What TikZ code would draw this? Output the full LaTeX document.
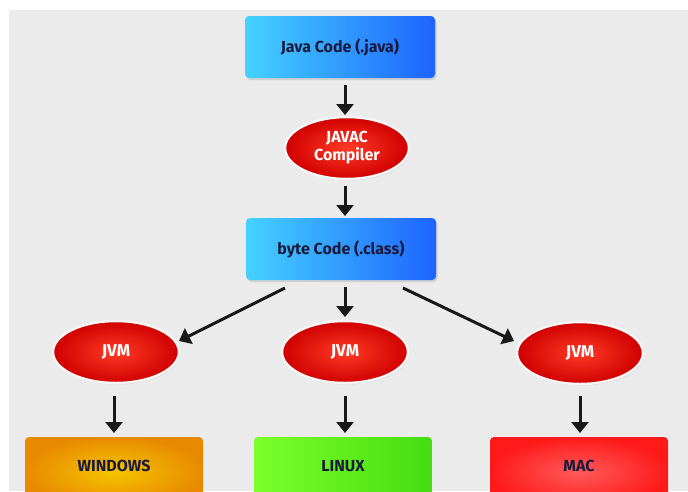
\documentclass[tikz,border=0pt]{standalone}
\usepackage{fontspec}
\setmainfont{Fira Sans}
\usetikzlibrary{arrows.meta,shadows,shapes.geometric}
\definecolor{bg}{HTML}{EBEBEB}
\definecolor{txtdark}{HTML}{1A1A3A}
\definecolor{bluel}{HTML}{45D2FF}
\definecolor{blued}{HTML}{1E64FF}
\definecolor{redd}{HTML}{D00000}
\definecolor{redl}{HTML}{FF3A26}
\definecolor{orl}{HTML}{F5C400}
\definecolor{ord}{HTML}{E88A00}
\definecolor{grl}{HTML}{7CFF2A}
\definecolor{grd}{HTML}{44DD11}
\definecolor{mcl}{HTML}{FF5A5A}
\definecolor{mcd}{HTML}{FF1A1A}
\tikzset{
  bluebox/.style={rectangle, rounded corners=4pt, minimum width=190pt, minimum height=62pt,
    left color=bluel, right color=blued, text=txtdark,
    font=\fontsize{16}{18}\selectfont\bfseries,
    drop shadow={shadow xshift=1.5pt, shadow yshift=-2pt, opacity=0.25}},
  redell/.style={ellipse, minimum width=124pt, minimum height=62pt, inner sep=0pt,
    inner color=redl, outer color=redd, draw=white!92!gray, line width=2.5pt,
    text=white, align=center, font=\fontsize{16}{18}\selectfont\bfseries,
    drop shadow={shadow xshift=1pt, shadow yshift=-1.5pt, opacity=0.2}},
  jvmell/.style={redell, minimum width=126pt, font=\fontsize{17}{19}\selectfont\bfseries},
  osbox/.style={rectangle, rounded corners=4pt, minimum width=178pt, minimum height=70pt},
  ostext/.style={text=txtdark, font=\fontsize{16}{18}\selectfont\bfseries},
  arr/.style={-{Triangle[width=17pt,length=11pt]}, line width=3pt, black!90}
}
\begin{document}
\begin{tikzpicture}[x=1pt,y=-1pt]
\useasboundingbox (0,0) rectangle (688,491);
\clip (0,0) rectangle (688,491);
\fill[white] (0,0) rectangle (688,491);
\fill[bg] (9,10) rectangle (688,491);

\node[bluebox] (java) at (340,47) {Java Code (.java)};
\node[redell] (javac) at (347,148) {JAVAC\\Compiler};
\node[bluebox] (byte) at (341,249) {byte Code (.class)};

\node[jvmell] (jvm1) at (116,352) {JVM};
\node[jvmell] (jvm2) at (345,352) {JVM};
\node[jvmell] (jvm3) at (580,353) {JVM};

\node[osbox, inner color=orl, outer color=ord] (win) at (114,472) {};
\node[osbox, left color=grl, right color=grd] (lin) at (343,472) {};
\node[osbox, inner color=mcl, outer color=mcd] (mac) at (579,472) {};
\node[ostext] (wint) at (114,466) {WINDOWS};
\node[ostext] (lint) at (343,466) {LINUX};
\node[ostext] (mact) at (579,466) {MAC};

\coordinate (a1s) at (345,85);
\coordinate (a1e) at (345,115);
\draw[arr] (a1s) -- (a1e);
\coordinate (a2s) at (345,186);
\coordinate (a2e) at (345,216);
\draw[arr] (a2s) -- (a2e);
\coordinate (b1s) at (285,288);
\coordinate (b1e) at (179,341);
\draw[arr] (b1s) -- (b1e);
\coordinate (b2s) at (345,287);
\coordinate (b2e) at (345,317);
\draw[arr] (b2s) -- (b2e);
\coordinate (b3s) at (403,288);
\coordinate (b3e) at (514,341);
\draw[arr] (b3s) -- (b3e);
\coordinate (c1s) at (114,396);
\coordinate (c1e) at (114,433);
\draw[arr] (c1s) -- (c1e);
\coordinate (c2s) at (345,396);
\coordinate (c2e) at (345,433);
\draw[arr] (c2s) -- (c2e);
\coordinate (c3s) at (580,396);
\coordinate (c3e) at (580,433);
\draw[arr] (c3s) -- (c3e);
\end{tikzpicture}
\end{document}
